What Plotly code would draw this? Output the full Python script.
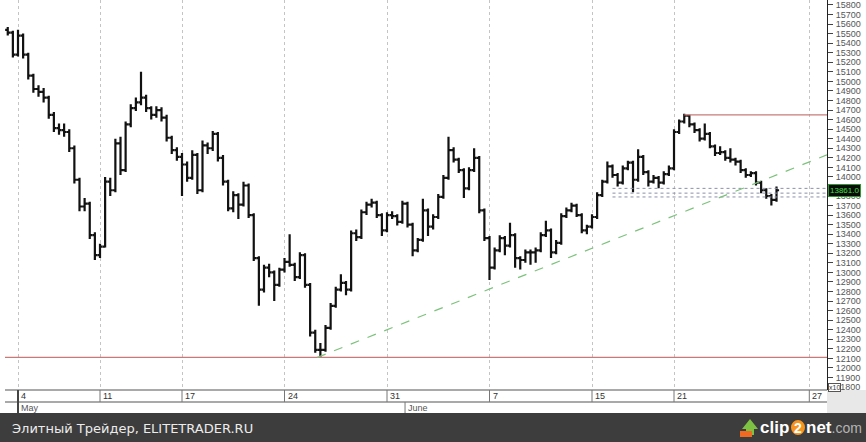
import plotly.graph_objects as go

# quarter-session bars, RTS futures (points / 10), late April - June
opens = [
    15540, 15510, 15280, 15480, 15280, 15060, 14920, 14890, 14830, 14650,
    14510, 14490, 14470, 14300, 13970, 13690, 13720, 13390, 13180, 13270,
    13950, 13860, 14350, 14070, 14550, 14720, 14780, 14830, 14720, 14650,
    14700, 14620, 14410, 14280, 14210, 14130, 13990, 14230, 13860, 14330,
    14300, 14450, 14200, 13950, 13670, 13810, 13710, 13910, 13600, 13150,
    12820, 13050, 13000, 12870, 13030, 13110, 13080, 12950, 13180, 12870,
    12370, 12190, 12190, 12420, 12650, 12820, 12890, 12820, 13410, 13370,
    13630, 13710, 13730, 13600, 13440, 13600, 13590, 13530, 13720, 13500,
    13230, 13340, 13650, 13480, 13580, 13790, 13990, 14280, 14180, 14070,
    13880, 14070, 14200, 13650, 13360, 13050, 13230, 13360, 13280, 13390,
    13150, 13130, 13210, 13210, 13230, 13390, 13440, 13210, 13310, 13590,
    13650, 13700, 13600, 13440, 13480, 13580, 13810, 13950, 14110, 14020,
    13940, 14090, 14150, 13970, 14210, 14050, 13950, 13990, 13940, 14030,
    14090, 14470, 14580, 14640, 14550, 14490, 14400, 14450, 14320, 14250,
    14260, 14200, 14180, 14160, 14070, 14020, 14040, 13940, 13860, 13800,
    13760,
]
highs = [
    15570, 15530, 15540, 15500, 15300, 15080, 14960, 14930, 14850, 14680,
    14560, 14560, 14500, 14330, 13990, 13780, 13740, 13420, 13300, 14000,
    13990, 14400, 14420, 14580, 14760, 14830, 15100, 14860, 14740, 14740,
    14730, 14650, 14430, 14310, 14250, 14160, 14280, 14250, 14380, 14360,
    14480, 14470, 14230, 13970, 13850, 13830, 13950, 13930, 13620, 13170,
    13080, 13090, 13020, 13050, 13150, 13400, 13100, 13210, 13200, 12890,
    12400, 12260, 12450, 12680, 12850, 12980, 12910, 13440, 13450, 13660,
    13740, 13770, 13750, 13620, 13630, 13640, 13610, 13750, 13740, 13520,
    13360, 13770, 13670, 13610, 13820, 14020, 14420, 14310, 14200, 14090,
    14100, 14300, 14220, 13670, 13380, 13260, 13390, 13380, 13520, 13410,
    13170, 13240, 13240, 13260, 13420, 13540, 13460, 13340, 13620, 13680,
    13730, 13720, 13620, 13500, 13610, 13840, 13970, 14160, 14130, 14040,
    14120, 14170, 14170, 14290, 14230, 14070, 14020, 14010, 14060, 14120,
    14500, 14600, 14660, 14650, 14570, 14510, 14560, 14470, 14340, 14320,
    14280, 14300, 14200, 14180, 14090, 14060, 14060, 13960, 13880, 13820,
    13900,
]
lows = [
    15480, 15250, 15260, 15240, 15020, 14880, 14840, 14780, 14610, 14470,
    14440, 14420, 14260, 13930, 13640, 13640, 13350, 13130, 13150, 13260,
    13800, 13840, 14020, 14050, 14520, 14690, 14750, 14680, 14600, 14620,
    14580, 14370, 14240, 14170, 13800, 13950, 13970, 13820, 13840, 14240,
    14270, 14160, 13910, 13640, 13630, 13560, 13690, 13570, 13120, 12650,
    12790, 12950, 12700, 12850, 13000, 13060, 12910, 12930, 12840, 12330,
    12160, 12110, 12170, 12400, 12630, 12800, 12760, 12800, 13330, 13350,
    13600, 13680, 13570, 13380, 13420, 13560, 13490, 13510, 13470, 13170,
    13210, 13320, 13380, 13450, 13560, 13770, 13970, 14150, 14040, 13780,
    13860, 14050, 13620, 13330, 12920, 13030, 13210, 13180, 13260, 13050,
    13030, 13100, 13080, 13100, 13210, 13370, 13150, 13190, 13290, 13570,
    13630, 13580, 13410, 13400, 13460, 13560, 13790, 13930, 13990, 13900,
    13920, 14070, 13840, 13950, 14020, 13900, 13930, 13880, 13920, 14010,
    14070, 14450, 14560, 14520, 14460, 14370, 14380, 14300, 14220, 14230,
    14170, 14150, 14120, 14040, 13990, 14000, 13910, 13830, 13770, 13700,
    13740,
]
closes = [
    15510, 15280, 15480, 15280, 15060, 14920, 14890, 14830, 14650, 14510,
    14490, 14470, 14300, 13970, 13690, 13720, 13390, 13180, 13270, 13950,
    13860, 14350, 14070, 14550, 14720, 14780, 14830, 14720, 14650, 14700,
    14620, 14410, 14280, 14210, 14130, 13990, 14230, 13860, 14330, 14300,
    14450, 14200, 13950, 13670, 13810, 13710, 13910, 13600, 13150, 12820,
    13050, 13000, 12870, 13030, 13110, 13080, 12950, 13180, 12870, 12370,
    12190, 12190, 12420, 12650, 12820, 12890, 12820, 13410, 13370, 13630,
    13710, 13730, 13600, 13440, 13600, 13590, 13530, 13720, 13500, 13230,
    13340, 13650, 13480, 13580, 13790, 13990, 14280, 14180, 14070, 13880,
    14070, 14200, 13650, 13360, 13050, 13230, 13360, 13280, 13390, 13150,
    13130, 13210, 13210, 13230, 13390, 13440, 13210, 13310, 13590, 13650,
    13700, 13600, 13440, 13480, 13580, 13810, 13950, 14110, 14020, 13940,
    14090, 14150, 13970, 14210, 14050, 13950, 13990, 13940, 14030, 14090,
    14470, 14580, 14640, 14550, 14490, 14400, 14450, 14320, 14250, 14260,
    14200, 14180, 14160, 14070, 14020, 14040, 13940, 13860, 13800, 13760,
    13860,
]
last_price = 13861.0

# session axis (trading days from May 4), day labels
day_pos = [0, 4, 8, 13, 18, 23, 28, 32, 38.6]
day_labels = ["4", "11", "17", "24", "31", "7", "15", "21", "27"]
month_pos = [0, 18.88]
month_labels = ["May", "June"]

# drawn levels
support = 12110
resistance = 14650
resistance_start = 32.5
trend_x = [14.6, 39.46]
trend_y = [12110, 14230]
band_start = 29.0
band_levels = [13880, 13830, 13790]

x_range = [-0.634, 39.463]
y_range = [11769, 15852]

bar_x = [-0.5 + 0.25 * k for k in range(len(closes))]

W, H = 866, 442


# pixel -> paper (whole figure, margins are zero)
def px(xp, yp):
    return xp / W, 1 - yp / H


fig = go.Figure()

fig.add_trace(go.Scatter(
    x=[x_range[0], x_range[1]], y=[support, support], mode="lines",
    line=dict(color="#c87a7a", width=1.2), hoverinfo="skip",
))
fig.add_trace(go.Scatter(
    x=[resistance_start, x_range[1]], y=[resistance, resistance], mode="lines",
    line=dict(color="#c87a7a", width=1.2), hoverinfo="skip",
))
for lvl in band_levels:
    fig.add_trace(go.Scatter(
        x=[band_start, x_range[1]], y=[lvl, lvl], mode="lines",
        line=dict(color="#8a8fa8", width=1, dash="dot"), hoverinfo="skip",
    ))
fig.add_trace(go.Scatter(
    x=trend_x, y=trend_y, mode="lines",
    line=dict(color="#7cc27c", width=1.2, dash="dash"), hoverinfo="skip",
))

fig.add_trace(go.Ohlc(
    x=bar_x, open=opens, high=highs, low=lows, close=closes,
    increasing=dict(line=dict(color="#111111", width=2.2)),
    decreasing=dict(line=dict(color="#111111", width=2.2)),
    tickwidth=0.5,
))

# x axis label rows
shapes = []
y_row1 = px(0, 390)[1]
y_row2 = px(0, 402)[1]
y_row3 = px(0, 413)[1]
x_left = px(5, 0)[0]
x_right = px(827, 0)[0]
for yy in [y_row1, y_row2]:
    shapes.append(dict(type="line", xref="paper", yref="paper", x0=x_left, x1=x_right,
                       y0=yy, y1=yy, line=dict(color="#8c8c8c", width=1.5)))
for p in day_pos:
    shapes.append(dict(type="line", xref="x", yref="paper", x0=p, x1=p,
                       y0=y_row1, y1=y_row2, line=dict(color="#777", width=1)))
for p in month_pos:
    shapes.append(dict(type="line", xref="x", yref="paper", x0=p, x1=p,
                       y0=y_row2, y1=y_row3, line=dict(color="#777", width=1)))
shapes.append(dict(type="line", xref="x", yref="paper", x0=0, x1=0,
                   y0=y_row1, y1=y_row3, line=dict(color="#444", width=2)))
# grey corner panel under the price scale
shapes.append(dict(type="rect", xref="paper", yref="paper", x0=x_right, x1=1,
                   y0=y_row3, y1=y_row1, fillcolor="#e8e8e8", line_width=0))
# footer
shapes.append(dict(type="rect", xref="paper", yref="paper", x0=0, x1=1,
                   y0=0, y1=y_row3, fillcolor="#3d3d3d", line_width=0,
                   layer="above"))

# clip2net arrow icon
a = [px(742, 429), px(750, 419), px(758, 429), px(754, 429), px(754, 435), px(746, 435), px(746, 429)]
shapes.append(dict(type="path", xref="paper", yref="paper", layer="above",
                   path="M " + " L ".join(f"{u},{v}" for u, v in a) + " Z",
                   fillcolor="#7dc242", line_width=0))
b0, b1 = px(740, 431), px(752, 437)
shapes.append(dict(type="rect", xref="paper", yref="paper", layer="above",
                   x0=b0[0], y0=b0[1], x1=b1[0], y1=b1[1],
                   fillcolor="#f26a21", line_width=0))
c0, c1 = px(791, 420), px(805, 435)
shapes.append(dict(type="circle", xref="paper", yref="paper", layer="above",
                   x0=c0[0], y0=c0[1], x1=c1[0], y1=c1[1],
                   fillcolor="#f7941d", line_width=0))

annotations = []
row1_mid = px(0, 396)[1]
row2_mid = px(0, 408)[1]
for p, t in zip(day_pos, day_labels):
    annotations.append(dict(x=p, y=row1_mid, xref="x", yref="paper", text=t,
                            showarrow=False, xanchor="left", yanchor="middle", xshift=1,
                            font=dict(size=9, color="#333", family="Liberation Sans")))
for p, t in zip(month_pos, month_labels):
    annotations.append(dict(x=p, y=row2_mid, xref="x", yref="paper", text=t,
                            showarrow=False, xanchor="left", yanchor="middle", xshift=1,
                            font=dict(size=9, color="#555", family="Liberation Sans")))
annotations.append(dict(x=x_right, y=last_price, xref="paper", yref="y",
                        text=f"{last_price:.1f}", showarrow=False, xanchor="left",
                        yanchor="middle", xshift=1, bgcolor="#0b0b0b",
                        bordercolor="#2c9a2c", borderwidth=1, borderpad=1,
                        font=dict(size=8, color="#3ce03c", family="Liberation Sans")))
annotations.append(dict(x=x_right, y=11800, xref="paper", yref="y", text="x10",
                        showarrow=False, xanchor="left", yanchor="middle", xshift=1,
                        bgcolor="white", bordercolor="#555", borderwidth=1,
                        borderpad=0, font=dict(size=7, color="#333", family="Liberation Sans")))
fx, fy = px(10, 428)
annotations.append(dict(x=fx, y=fy, xref="paper", yref="paper",
                        text="Элитный Трейдер, ELITETRADER.RU", showarrow=False,
                        xanchor="left", yanchor="middle",
                        font=dict(size=13, color="#ececec", family="DejaVu Sans")))
lx, ly = px(791, 427)
annotations.append(dict(x=lx, y=ly, xref="paper", yref="paper", text="<b>clip</b>",
                        showarrow=False, xanchor="right", yanchor="middle",
                        font=dict(size=17, color="white", family="Liberation Sans")))
lx, ly = px(798, 428)
annotations.append(dict(x=lx, y=ly, xref="paper", yref="paper", text="<b>2</b>",
                        showarrow=False, xanchor="center", yanchor="middle",
                        font=dict(size=14, color="white", family="Liberation Sans")))
lx, ly = px(804, 427)
annotations.append(dict(x=lx, y=ly, xref="paper", yref="paper",
                        text="<b>net</b><span style='color:#b4b4b4;font-size:14px'>.com</span>",
                        showarrow=False, xanchor="left", yanchor="middle",
                        font=dict(size=17, color="white", family="Liberation Sans")))

fig.update_layout(
    width=W, height=H,
    margin=dict(l=0, r=0, t=0, b=0, pad=0),
    paper_bgcolor="white", plot_bgcolor="white",
    showlegend=False,
    shapes=shapes, annotations=annotations,
    xaxis=dict(
        domain=[x_left, x_right],
        range=x_range, rangeslider=dict(visible=False), automargin=False,
        tickmode="array", tickvals=day_pos, showticklabels=False, ticks="",
        showgrid=True, gridcolor="#c4c4c4", griddash="dot", gridwidth=1,
        zeroline=False, showline=False,
    ),
    yaxis=dict(
        domain=[y_row1, 1],
        range=y_range, side="right", tickmode="linear", tick0=0, dtick=100,
        tickformat="d", automargin=False,
        ticks="outside", ticklen=5, tickcolor="#444", tickwidth=1,
        showline=True, linecolor="#222", linewidth=1,
        showgrid=False, zeroline=False,
        tickfont=dict(size=9, color="#555", family="Liberation Sans"),
        ticklabelstandoff=1,
    ),
)

fig.write_html("out.html", config={"displayModeBar": False},
               post_script="document.body.style.margin='0';")
